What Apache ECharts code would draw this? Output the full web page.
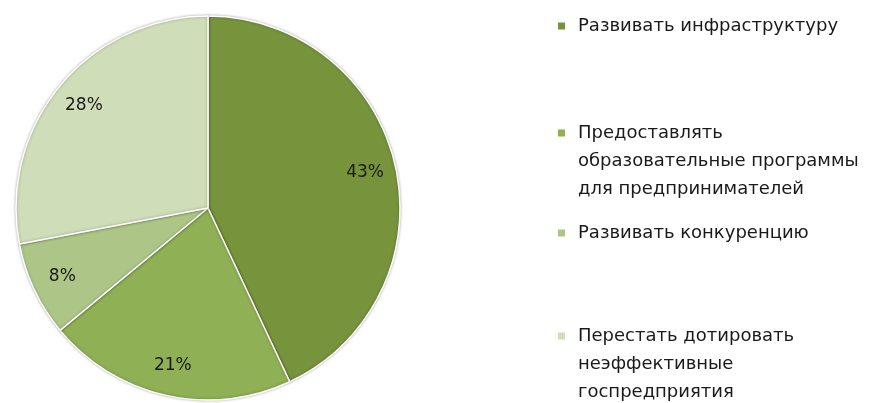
<!DOCTYPE html>
<html><head><meta charset="utf-8">
<script src="https://cdn.jsdelivr.net/npm/echarts@6/dist/echarts.min.js"></script>
<style>html,body{margin:0;padding:0;background:#fff}#c{width:881px;height:403px}</style>
</head><body><div id="c"></div>
<script>
const categories = ['Развивать инфраструктуру', 'Предоставлять образовательные программы для предпринимателей', 'Развивать конкуренцию', 'Перестать дотировать неэффективные госпредприятия'];
const legendLabels = ['Развивать инфраструктуру', 'Предоставлять\nобразовательные программы\nдля предпринимателей', 'Развивать конкуренцию', 'Перестать дотировать\nнеэффективные\nгоспредприятия'];
const values = [43, 21, 8, 28];
const colors = ['#77933c', '#8fb054', '#adc688', '#cfddb8'];

const chart = echarts.init(document.getElementById('c'), null, {renderer: 'canvas'});
const data = categories.map((n, i) => ({name: n, value: values[i], itemStyle: {color: colors[i]}}));
const font = 'DejaVu Sans';
const lh = 28;
const legendTops = [12, 119, 219, 322];
const legends = categories.map((n, i) => {
  const lines = legendLabels[i].split('\n').length;
  const h = 7 + (lines - 1) * lh;
  return {
    data: [n], orient: 'vertical', left: 558, top: legendTops[i], padding: 0,
    icon: 'path://M0,0H7V7H0Z M0,' + h + 'H0.01', itemWidth: 7, itemHeight: h, selectedMode: false,
    itemStyle: {borderWidth: 0, shadowBlur: 0},
    formatter: () => legendLabels[i],
    textStyle: {fontFamily: font, fontSize: 18, lineHeight: lh, color: '#1a1a1a', padding: [0, 0, 0, 8]}
  };
});
chart.setOption({
  animation: false,
  legend: legends,
  series: [{
    type: 'pie', center: [208, 208], radius: [0, 192], startAngle: 90, clockwise: true,
    silent: true, label: {show: false}, labelLine: {show: false},
    itemStyle: {borderColor: '#ffffff', borderWidth: 1.5, shadowBlur: 3, shadowColor: 'rgba(0,0,0,0.3)'},
    data: data
  }, {
    type: 'pie', center: [208, 208], radius: [122, 194], startAngle: 90, clockwise: true,
    silent: true, labelLine: {show: false},
    itemStyle: {color: 'rgba(0,0,0,0)', borderWidth: 0},
    label: {show: true, position: 'inside', formatter: '{c}%', fontFamily: font, fontSize: 17, color: '#1a1a1a'},
    data: categories.map((n, i) => ({name: n, value: values[i], itemStyle: {color: 'rgba(0,0,0,0)'}}))
  }]
});
</script></body></html>
